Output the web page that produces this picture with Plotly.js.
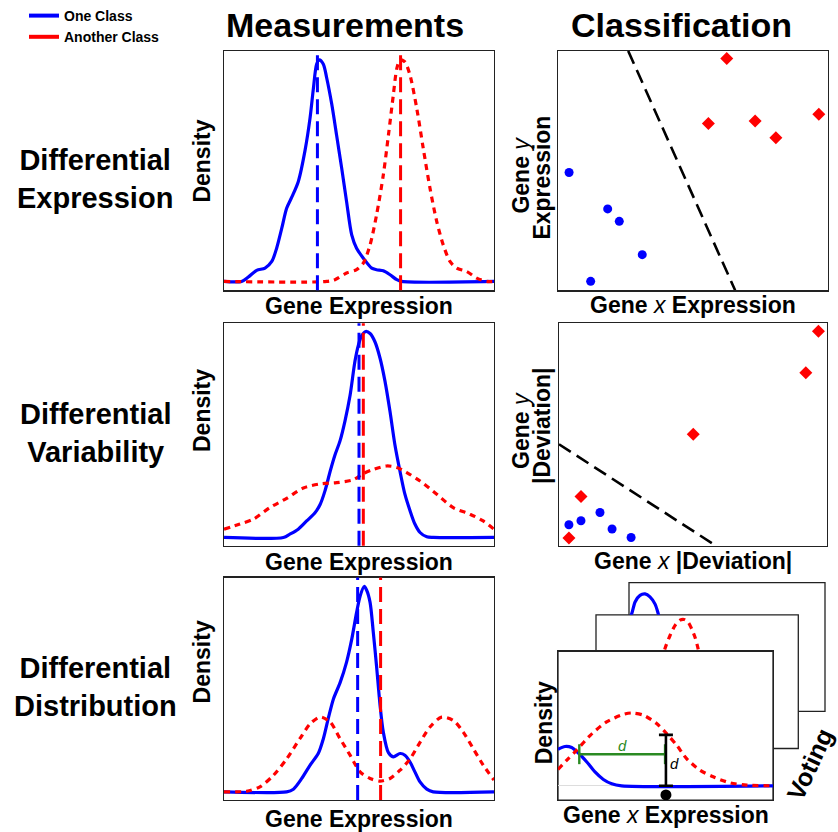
<!DOCTYPE html>
<html><head><meta charset="utf-8">
<script src="https://cdn.plot.ly/plotly-3.0.1.min.js"></script>
<style>html,body{margin:0;padding:0;background:#fff;}#chart{width:838px;height:832px;}</style>
</head><body><div id="chart"></div>
<script>
// ================= DATA =================
// Row 1: Differential Expression (density curves)
const deOneX = [0,6.5,9,12.1,15.2,17.7,19.5,21.4,23.2,25.1,27.5,30,31.9,33.1,34.3,35.3,36.8,38,39.9,41.7,43.6,45.4,47.3,49.1,51.6,54.7,56.5,59,61.5,64,65.8,100];
const deOneY = [0,0,0.02,0.05,0.06,0.09,0.15,0.24,0.33,0.38,0.45,0.59,0.74,0.87,0.98,1.0,0.98,0.92,0.80,0.66,0.51,0.36,0.21,0.15,0.105,0.06,0.053,0.048,0.03,0.008,0,0];
const deAnotherX = [0,38,41.1,45.4,49.1,51.6,54.1,56.5,59,60.9,62.7,64,65.2,67,68.9,71.4,73.8,76.3,78.8,81.2,83.7,86.2,89.9,93.6,97.3,100];
const deAnotherY = [0,0,0.008,0.038,0.053,0.083,0.165,0.30,0.48,0.66,0.84,0.96,1.0,0.99,0.93,0.78,0.60,0.42,0.27,0.165,0.09,0.06,0.045,0.015,0,0];
const deMeans = [34.6, 65.4];

// Row 2: Differential Variability
const dvOneX = [0,22,24.4,27.5,30.6,33.7,35.6,37.4,39.3,41.1,43,44.8,46.7,48.5,49.8,51,52.5,54.1,55.9,57.8,59.6,61.5,63.3,65.2,67,68.9,70.7,72.6,75.1,77.5,100];
const dvOneY = [0,0,0.016,0.04,0.08,0.12,0.16,0.226,0.32,0.40,0.47,0.565,0.69,0.855,0.935,0.98,1.0,0.99,0.95,0.87,0.76,0.61,0.45,0.32,0.21,0.13,0.065,0.024,0.003,0,0];
const dvAnotherX = [0,5.9,10.9,17,23.2,29.4,35.6,41.7,47.9,51.6,55.3,60.2,64,67.7,72.6,78.8,84.9,91.1,96,100];
const dvAnotherY = [0.04,0.065,0.089,0.145,0.19,0.24,0.26,0.266,0.28,0.31,0.33,0.347,0.34,0.315,0.274,0.21,0.145,0.113,0.08,0.04];
const dvMeans = [50.0, 51.6];

// Row 3: Differential Distribution
const ddOneX = [0,23.2,25.7,28.8,31.9,34.9,36.8,38.6,40.5,43,45.4,47.3,49.1,50.4,51.9,52.8,54.1,55.3,56.5,57.8,59,60.9,62.7,65.2,67,68.9,70.7,72.6,75.1,77.5,100];
const ddOneY = [0,0,0.013,0.065,0.13,0.186,0.258,0.355,0.45,0.53,0.63,0.74,0.87,0.95,0.997,0.98,0.92,0.774,0.61,0.42,0.29,0.19,0.17,0.186,0.178,0.145,0.097,0.048,0.013,0,0];
const ddAnotherX = [0,8.4,13.3,18.3,23.2,28.1,31.9,35.6,39.3,43,46.7,50.4,54.1,57.8,61.5,65.2,68.9,72.6,76.3,80.6,84.9,88.6,92.3,96,100];
const ddAnotherY = [0,0.003,0.024,0.08,0.16,0.258,0.33,0.363,0.339,0.258,0.178,0.097,0.065,0.052,0.065,0.105,0.16,0.24,0.315,0.363,0.347,0.29,0.21,0.13,0.057];
const ddMeans = [49.5, 58.0];

// Classification: Gene x / Gene y expression
const ceOneX = [4.1,18.4,22.7,31.2,12.1];
const ceOneY = [49.2,34.0,28.8,14.9,3.75];
const ceAnotherX = [62.5,55.7,73.0,80.7,96.6];
const ceAnotherY = [96.8,69.7,70.7,63.75,73.5];
const ceBoundaryX = [26, 65.6];
const ceBoundaryY = [100, 0];

// Classification: |Deviation|
const cvOneX = [3.7,8.2,15.3,19.8,26.9];
const cvOneY = [9.4,11.2,14.9,7.5,3.7];
const cvAnotherX = [96.8,92.1,50.1,8.2,3.7];
const cvAnotherY = [96.4,77.7,50.1,22.1,3.5];
const cvBoundaryX = [0, 57.6];
const cvBoundaryY = [45.6, 0.7];

// Classification: distribution voting cards (front card)
const cdOneX = [0,3.26,6.36,9.46,13.3,17.2,21.1,25,29.6,100];
const cdOneY = [0.50,0.54,0.525,0.45,0.33,0.19,0.087,0.027,0,0];
const cdAnotherX = [0,4,8.7,14.9,22.6,30.4,34.3,39.7,45.9,50.5,55.2,59.8,66,72.2,80,87.8,100];
const cdAnotherY = [0.224,0.35,0.49,0.69,0.877,0.98,1.0,0.97,0.854,0.717,0.557,0.374,0.215,0.123,0.041,0.009,0];
const cdHorizX = [9.9, 49.8];
const cdHorizY = [0.434, 0.434];
const cdVertX = [50.2];
const cdVertTop = [0.70];
const cdQueryX = [50.2];
const cdQueryY = [-0.125];
// visible tops of the cards behind
const cardMidX = [32.5,34.1,36.6,39.1,41.5,43.5,45.6,47.3,48.9,50.1,51.4];
const cardMidY = [1.02,1.18,1.36,1.50,1.57,1.58,1.54,1.45,1.34,1.22,1.06];
const cardBackX = [-1.5,1.4,3.1,5.6,8.2,10.7,13.3,14.9,16.7];
const cardBackY = [0.98,1.15,1.31,1.40,1.42,1.38,1.28,1.15,0.96];

// Text
const classNames = ['One Class', 'Another Class'];
const colTitles = ['Measurements', 'Classification'];
const rowLabels = ['Differential<br>Expression', 'Differential<br>Variability', 'Differential<br>Distribution'];

// ================= STYLE / LAYOUT =================
const W = 838, H = 832;
const FONT = 'Liberation Sans, Arial, Helvetica, sans-serif';
const BLUE = '#0000ff', RED = '#ff0000', GREEN = '#2a8a22';
const px = v => v / W;
const py = v => 1 - v / H;
const dom = (a, b) => [px(a), px(b)];
const domY = (top, bot) => [py(bot), py(top)];

function boxAxis(d, r, anchor, extra) {
  return Object.assign({domain: d, range: r, anchor: anchor, showticklabels: false, ticks: '', showgrid: false,
    zeroline: false, showline: true, mirror: true, linecolor: '#222', linewidth: 1.3, fixedrange: true}, extra || {});
}
function bareAxis(d, r, anchor) {
  return {domain: d, range: r, anchor: anchor, showticklabels: false, ticks: '', showgrid: false,
    zeroline: false, showline: false, fixedrange: true};
}

const traces = [];
function solid(x, y, ax, color) {
  traces.push({x: x, y: y, xaxis: 'x' + ax, yaxis: 'y' + ax, mode: 'lines', showlegend: false, hoverinfo: 'skip',
    line: {color: color, width: 3.2, shape: 'spline', smoothing: 0.8}});
}
function dotted(x, y, ax, color) {
  traces.push({x: x, y: y, xaxis: 'x' + ax, yaxis: 'y' + ax, mode: 'lines', showlegend: false, hoverinfo: 'skip',
    line: {color: color, width: 3.2, dash: '6px,5px', shape: 'spline', smoothing: 0.8}});
}
function pts(x, y, ax, color, sym, size) {
  traces.push({x: x, y: y, xaxis: 'x' + ax, yaxis: 'y' + ax, mode: 'markers', showlegend: false, hoverinfo: 'skip',
    cliponaxis: false, marker: {color: color, symbol: sym, size: size}});
}
function boundary(x, y, ax) {
  traces.push({x: x, y: y, xaxis: 'x' + ax, yaxis: 'y' + ax, mode: 'lines', showlegend: false, hoverinfo: 'skip',
    line: {color: '#000', width: 2.6, dash: '14px,7px'}});
}

// legend entries
traces.push({x: [null], y: [null], mode: 'lines', name: classNames[0], line: {color: BLUE, width: 4}, hoverinfo: 'skip'});
traces.push({x: [null], y: [null], mode: 'lines', name: classNames[1], line: {color: RED, width: 4}, hoverinfo: 'skip'});

// measurements
solid(deOneX, deOneY, '', BLUE);  dotted(deAnotherX, deAnotherY, '', RED);
solid(dvOneX, dvOneY, '2', BLUE); dotted(dvAnotherX, dvAnotherY, '2', RED);
solid(ddOneX, ddOneY, '3', BLUE); dotted(ddAnotherX, ddAnotherY, '3', RED);

// classification scatter
boundary(ceBoundaryX, ceBoundaryY, '4');
pts(ceOneX, ceOneY, '4', BLUE, 'circle', 9);
pts(ceAnotherX, ceAnotherY, '4', RED, 'diamond', 10);
boundary(cvBoundaryX, cvBoundaryY, '5');
pts(cvOneX, cvOneY, '5', BLUE, 'circle', 9);
pts(cvAnotherX, cvAnotherY, '5', RED, 'diamond', 10);

// cards
dotted(cardMidX, cardMidY, '7', RED);
solid(cardBackX, cardBackY, '8', BLUE);
solid(cdOneX, cdOneY, '6', BLUE);
dotted(cdAnotherX, cdAnotherY, '6', RED);
traces.push({x: cdHorizX, y: cdHorizY, xaxis: 'x6', yaxis: 'y6', mode: 'lines', showlegend: false, hoverinfo: 'skip',
  line: {color: GREEN, width: 2.4},
  error_y: {type: 'constant', value: 0.137, width: 0, thickness: 2.4, color: GREEN}});
traces.push({x: cdVertX, y: cdVertTop.map(v => v / 2), xaxis: 'x6', yaxis: 'y6', mode: 'lines', showlegend: false, hoverinfo: 'skip',
  line: {color: '#000', width: 2.4},
  error_y: {type: 'data', array: cdVertTop.map(v => v / 2), width: 7, thickness: 2.6, color: '#000'}});
traces.push({x: cdQueryX, y: cdQueryY, xaxis: 'x6', yaxis: 'y6', mode: 'markers', showlegend: false, hoverinfo: 'skip',
  cliponaxis: false, marker: {color: '#000', size: 11}});

const shapes = [];
// card frames (back to front)
function card(x0, x1, top, bot) {
  shapes.push({type: 'rect', xref: 'paper', yref: 'paper', x0: px(x0), x1: px(x1), y0: py(bot), y1: py(top),
    fillcolor: '#fff', line: {color: '#222', width: 1.3}, layer: 'below'});
}
card(629, 825, 582, 711);
card(596, 798.3, 614.3, 748.3);
card(558, 773, 651, 800);
// class mean lines
[[deMeans, ''], [dvMeans, '2'], [ddMeans, '3']].forEach(([m, ax]) => {
  [BLUE, RED].forEach((c, i) => {
    shapes.push({type: 'line', xref: 'x' + ax, yref: 'y' + ax + ' domain', x0: m[i], x1: m[i], y0: 0, y1: 1,
      line: {color: c, width: 3, dash: '15px,7px'}});
  });
});

const annotations = [];
function txt(text, x, y, size, opts) {
  annotations.push(Object.assign({text: text, x: px(x), y: py(y), xref: 'paper', yref: 'paper', showarrow: false,
    xanchor: 'center', yanchor: 'middle', font: {family: FONT, size: size, color: '#000', weight: 'bold'}}, opts || {}));
}
txt(colTitles[0], 345, 23, 34);
txt(colTitles[1], 681, 23, 34);
txt(rowLabels[0], 95, 177, 29);
txt(rowLabels[1], 95, 432, 29);
txt(rowLabels[2], 95, 687, 29);
// measurement axis titles
txt('Density', 202, 160, 23, {textangle: -90});
txt('Density', 202, 410, 23, {textangle: -90});
txt('Density', 202, 662, 23, {textangle: -90});
txt('Gene Expression', 359, 305, 23);
txt('Gene Expression', 359, 561, 23);
txt('Gene Expression', 359, 819, 23);
// classification axis titles
const nb = () => ({family: FONT, size: 23, color: '#000', weight: 'normal'});
txt('<b>Gene</b> <i>y</i>', 521, 174, 23, {textangle: -90, font: nb()});
txt('Expression', 542, 176, 23, {textangle: -90});
txt('<b>Gene</b> <i>y</i>', 521, 430, 23, {textangle: -90, font: nb()});
txt('|Deviation|', 542, 425, 23, {textangle: -90});
txt('<b>Gene</b> <i>x</i> <b>Expression</b>', 693, 304, 23, {font: nb()});
txt('<b>Gene</b> <i>x</i> <b>|Deviation|</b>', 693, 560, 23, {font: nb()});
txt('<b>Gene</b> <i>x</i> <b>Expression</b>', 666, 815, 23, {font: nb()});
txt('Density', 544, 723, 23, {textangle: -90});
txt('Voting', 810, 764, 25, {textangle: -65});
// distance labels
annotations.push({text: '<i>d</i>', x: 30.2, y: 0.56, xref: 'x6', yref: 'y6', showarrow: false,
  font: {family: FONT, size: 15, color: GREEN}});
annotations.push({text: '<i>d</i>', x: 54.4, y: 0.31, xref: 'x6', yref: 'y6', showarrow: false,
  font: {family: FONT, size: 15, color: '#000'}});

const layout = {
  width: W, height: H, margin: {l: 0, r: 0, t: 0, b: 0},
  paper_bgcolor: '#fff', plot_bgcolor: 'rgba(0,0,0,0)',
  showlegend: true,
  legend: {x: px(24), y: py(-2), xanchor: 'left', yanchor: 'top', bgcolor: 'rgba(0,0,0,0)',
    font: {family: FONT, size: 14, color: '#000', weight: 'bold'}, itemwidth: 30, tracegroupgap: 0},
  xaxis: boxAxis(dom(224, 494), [0, 100], 'y'),
  yaxis: boxAxis(domY(49, 289), [-0.04, 1.04], 'x'),
  xaxis2: boxAxis(dom(224, 494), [0, 100], 'y2'),
  yaxis2: boxAxis(domY(322, 545), [-0.04, 1.04], 'x2'),
  xaxis3: boxAxis(dom(224, 494), [0, 100], 'y3'),
  yaxis3: boxAxis(domY(577, 800), [-0.04, 1.04], 'x3'),
  xaxis4: boxAxis(dom(558, 828), [0, 100], 'y4'),
  yaxis4: boxAxis(domY(49, 289), [0, 100], 'x4'),
  xaxis5: boxAxis(dom(559, 827), [0, 100], 'y5'),
  yaxis5: boxAxis(domY(322, 545), [0, 100], 'x5'),
  xaxis6: boxAxis(dom(558, 773), [0, 100], 'y6'),
  yaxis6: boxAxis(domY(651, 800), [-0.196, 1.845], 'x6', {zeroline: true, zerolinecolor: '#dddddd', zerolinewidth: 1}),
  xaxis7: bareAxis(dom(596, 798.3), [0, 100], 'y7'),
  yaxis7: bareAxis(domY(614.3, 651), [1.141, 1.644], 'x7'),
  xaxis8: bareAxis(dom(629, 825), [0, 100], 'y8'),
  yaxis8: bareAxis(domY(582, 614.3), [1.133, 1.575], 'x8'),
  shapes: shapes,
  annotations: annotations
};
Plotly.newPlot('chart', traces, layout, {displayModeBar: false, staticPlot: true});
</script>
</body></html>
